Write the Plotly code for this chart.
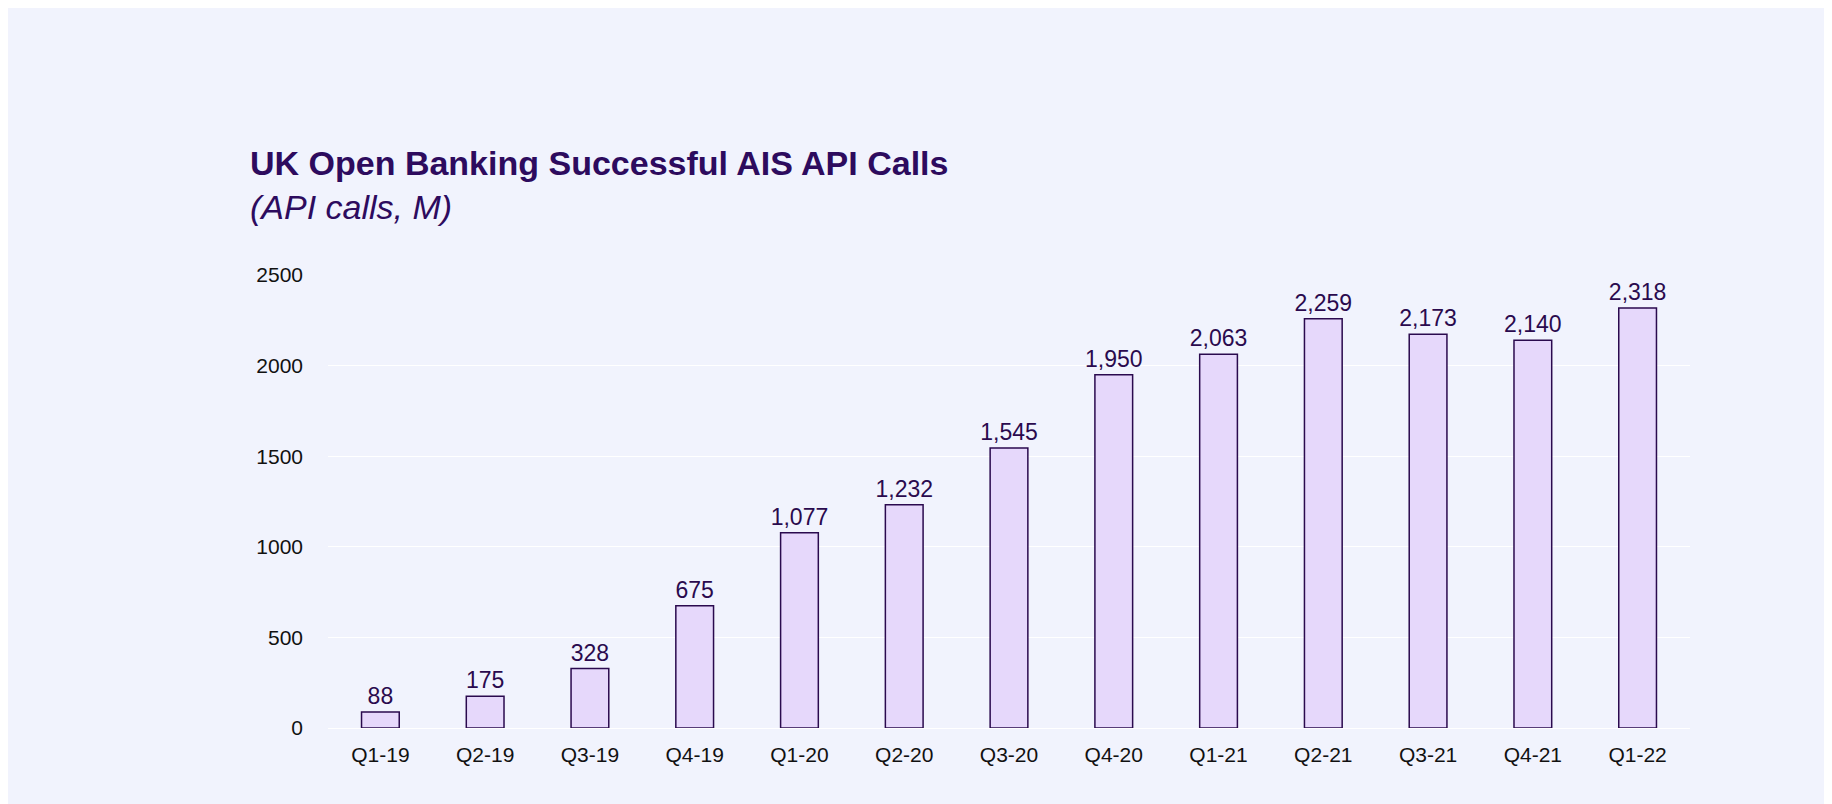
import plotly.graph_objects as go

quarters = ["Q1-19","Q2-19","Q3-19","Q4-19","Q1-20","Q2-20","Q3-20","Q4-20","Q1-21","Q2-21","Q3-21","Q4-21","Q1-22"]
calls = [88,175,328,675,1077,1232,1545,1950,2063,2259,2173,2140,2318]
labels = [f"{v:,}" for v in calls]

fig = go.Figure(go.Bar(
    x=quarters, y=calls, text=labels, textposition="outside", cliponaxis=False,
    width=0.36,
    marker=dict(color="#e6d8fb", line=dict(color="#2a0a4e", width=1.5)),
    textfont=dict(family="Liberation Sans, Arial", size=23, color="#2a0a4e"),
))
fig.update_layout(
    width=1832, height=804,
    paper_bgcolor="#f1f3fd", plot_bgcolor="#f1f3fd",
    margin=dict(l=320, r=150, t=267, b=84),
    font=dict(family="Liberation Sans, Arial", size=21, color="#111111"),
    showlegend=False,
    uniformtext=dict(minsize=23, mode="show"),
    annotations=[
        dict(text="<b>UK Open Banking Successful AIS API Calls</b>", xref="paper", yref="paper",
             x=0, xshift=240-320, y=1, yshift=267-155, xanchor="left", yanchor="middle", showarrow=False,
             font=dict(size=34, color="#2d0b5e")),
        dict(text="<i>(API calls, M)</i>", xref="paper", yref="paper",
             x=0, xshift=240-320, y=1, yshift=267-199, xanchor="left", yanchor="middle", showarrow=False,
             font=dict(size=34, color="#2d0b5e")),
    ],
)
fig.update_yaxes(range=[0, 2500], tickvals=[0,500,1000,1500,2000,2500], gridcolor="#ffffff",
                 gridwidth=1, zeroline=False, showline=False, ticks="", ticklabelstandoff=24)
fig.update_xaxes(showline=True, linecolor="#ffffff", ticks="", ticklabelstandoff=8)
fig.write_html("out.html")
